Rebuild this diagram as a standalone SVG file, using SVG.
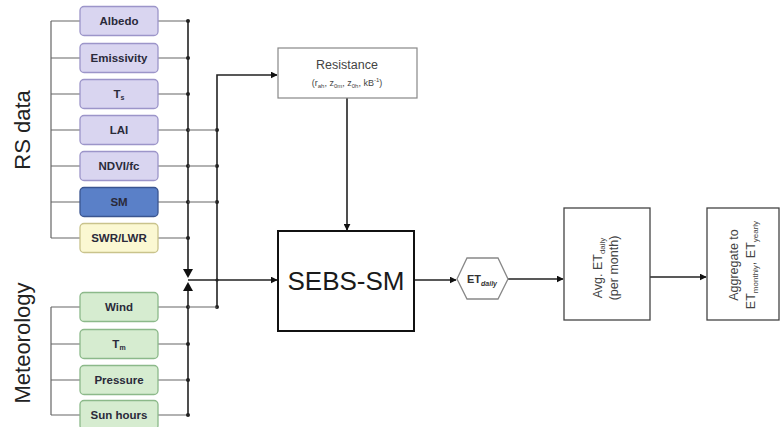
<svg xmlns="http://www.w3.org/2000/svg" width="782" height="427" viewBox="0 0 782 427">
<defs>
<style>
.lbl{font-family:"Liberation Sans",Arial,sans-serif;font-weight:bold;font-size:11.5px;fill:#2a2a3a;text-anchor:middle}
.rs rect{fill:#d9d5f0;stroke:#9c95c9;stroke-width:1.3}
.sm rect{fill:#5a80c8;stroke:#3a5590;stroke-width:1.3}
.sw rect{fill:#fbf8d2;stroke:#c9c38c;stroke-width:1.3}
.met rect{fill:#d6ecd0;stroke:#8cb98a;stroke-width:1.3}
.box{fill:#fff;stroke:#333;stroke-width:1.3}
.gtxt{font-family:"Liberation Sans",Arial,sans-serif;fill:#444;text-anchor:middle}
.ln{stroke:#222;stroke-width:1.6;fill:none}
.thin{stroke:#666;stroke-width:1.2;fill:none}
.side{font-family:"Liberation Sans",Arial,sans-serif;font-size:22px;fill:#222;text-anchor:middle}
</style>
<marker id="ah" viewBox="0 0 10 10" refX="9" refY="5" markerWidth="7" markerHeight="7" orient="auto" markerUnits="userSpaceOnUse">
<path d="M0,0 L10,5 L0,10 z" fill="#111"/>
</marker>
</defs>
<rect width="782" height="427" fill="#fff"/>

<text class="side" transform="translate(30,130) rotate(-90)">RS data</text>
<text class="side" transform="translate(30,343) rotate(-90)">Meteorology</text>

<g id="connectors">
<!-- left buses -->
<path class="thin" d="M51,21 V238 M51,307 V415"/>
<path class="thin" d="M51,21 H80 M51,58 H80 M51,94 H80 M51,130 H80 M51,166 H80 M51,202 H80 M51,238 H80 M51,307 H80 M51,344 H80 M51,380 H80 M51,415 H80"/>
<!-- right stubs -->
<path class="thin" d="M158,21 H188 M158,58 H188 M158,94 H188 M158,130 H188 M158,166 H188 M158,202 H188 M158,238 H188 M158,307 H188 M158,344 H188 M158,380 H188 M158,415 H188"/>
<!-- main right bus -->
<path class="ln" d="M188,21 V276"/>
<path class="ln" d="M188,415 V285"/>
<path d="M183,269 L193,269 L188,278 z" fill="#111"/>
<path d="M183,291 L193,291 L188,282 z" fill="#111"/>
<g fill="#222">
<circle cx="188" cy="21" r="2"/><circle cx="188" cy="58" r="2"/><circle cx="188" cy="94" r="2"/><circle cx="188" cy="130" r="2"/><circle cx="188" cy="166" r="2"/><circle cx="188" cy="202" r="2"/><circle cx="188" cy="238" r="2"/><circle cx="188" cy="307" r="2"/><circle cx="188" cy="344" r="2"/><circle cx="188" cy="380" r="2"/><circle cx="188" cy="415" r="2"/>
<circle cx="217" cy="130" r="2"/><circle cx="217" cy="166" r="2"/><circle cx="217" cy="202" r="2"/><circle cx="217" cy="307" r="2"/><circle cx="217" cy="280" r="1.6"/>
</g>
<!-- second bus to resistance -->
<path class="thin" d="M188,130 H217 M188,166 H217 M188,202 H217 M188,307 H217"/>
<path class="ln" d="M217,307 V75 H277" marker-end="url(#ah)"/>
<!-- to SEBS -->
<path class="ln" d="M188,280 H277" marker-end="url(#ah)"/>
<path class="ln" d="M347,98 V230" marker-end="url(#ah)"/>
<path class="ln" d="M414,280 H456" marker-end="url(#ah)"/>
<path class="ln" d="M508,279 H563" marker-end="url(#ah)"/>
<path class="ln" d="M650,277 H706" marker-end="url(#ah)"/>
</g>

<g id="albedo" class="rs"><rect x="80" y="6.5" width="78" height="29" rx="4"/><text class="lbl" x="119" y="25">Albedo</text></g>
<g id="emissivity" class="rs"><rect x="80" y="43.5" width="78" height="29" rx="4"/><text class="lbl" x="119" y="62">Emissivity</text></g>
<g id="ts" class="rs"><rect x="80" y="79.5" width="78" height="29" rx="4"/><text class="lbl" x="119" y="98">T<tspan font-size="7" dy="2">s</tspan></text></g>
<g id="lai" class="rs"><rect x="80" y="115.5" width="78" height="29" rx="4"/><text class="lbl" x="119" y="134">LAI</text></g>
<g id="ndvi" class="rs"><rect x="80" y="151.5" width="78" height="29" rx="4"/><text class="lbl" x="119" y="170">NDVI/fc</text></g>
<g id="sm" class="sm"><rect x="80" y="187.5" width="78" height="29" rx="4"/><text class="lbl" x="119" y="206">SM</text></g>
<g id="swr" class="sw"><rect x="80" y="223.5" width="78" height="29" rx="4"/><text class="lbl" x="119" y="242">SWR/LWR</text></g>
<g id="wind" class="met"><rect x="80" y="292.5" width="78" height="29" rx="4"/><text class="lbl" x="119" y="311">Wind</text></g>
<g id="tm" class="met"><rect x="80" y="329.5" width="78" height="29" rx="4"/><text class="lbl" x="119" y="348">T<tspan font-size="7" dy="2">m</tspan></text></g>
<g id="pressure" class="met"><rect x="80" y="365.5" width="78" height="29" rx="4"/><text class="lbl" x="119" y="384">Pressure</text></g>
<g id="sunhours" class="met"><rect x="80" y="400.5" width="78" height="29" rx="4"/><text class="lbl" x="119" y="419">Sun hours</text></g>

<g id="resistance"><rect x="278" y="48" width="139" height="50" fill="#fff" stroke="#888" stroke-width="1.2"/>
<text class="gtxt" x="347" y="69" font-size="12.5">Resistance</text>
<text class="gtxt" x="347" y="86" font-size="9">(r<tspan font-size="6" dy="2">ah</tspan><tspan dy="-2">, z</tspan><tspan font-size="6" dy="2">0m</tspan><tspan dy="-2">, z</tspan><tspan font-size="6" dy="2">0h</tspan><tspan dy="-2">, kB</tspan><tspan font-size="6" dy="-4">-1</tspan><tspan dy="4">)</tspan></text></g>

<g id="sebs"><rect x="278" y="231" width="136" height="100" fill="#fff" stroke="#111" stroke-width="2"/>
<text x="346" y="290" font-family="Liberation Sans,Arial,sans-serif" font-size="26" fill="#1a1a1a" text-anchor="middle">SEBS-SM</text></g>

<g id="etdaily"><polygon points="457,279 467,258 498,258 508,279 498,299 467,299" fill="#fff" stroke="#888" stroke-width="1.3"/>
<text x="482" y="283" font-family="Liberation Sans,Arial,sans-serif" font-weight="bold" font-size="11" fill="#333" text-anchor="middle">ET<tspan font-size="7" dy="3" font-style="italic">daily</tspan></text></g>

<g id="avg"><rect x="564" y="208" width="86" height="112" fill="#fff" stroke="#444" stroke-width="1.3"/>
<text class="gtxt" font-size="12.5" transform="translate(602,268) rotate(-90)">Avg. ET<tspan font-size="8" dy="3">daily</tspan></text>
<text class="gtxt" font-size="12.5" transform="translate(618,268) rotate(-90)">(per month)</text></g>

<g id="aggregate"><rect x="707" y="208" width="72" height="112" fill="#fff" stroke="#444" stroke-width="1.3"/>
<text class="gtxt" font-size="12.5" transform="translate(738,265) rotate(-90)">Aggregate to</text>
<text class="gtxt" font-size="12.5" transform="translate(755,265) rotate(-90)">ET<tspan font-size="8" dy="3">monthly</tspan><tspan dy="-3">, ET</tspan><tspan font-size="8" dy="3">yearly</tspan></text></g>
</svg>
